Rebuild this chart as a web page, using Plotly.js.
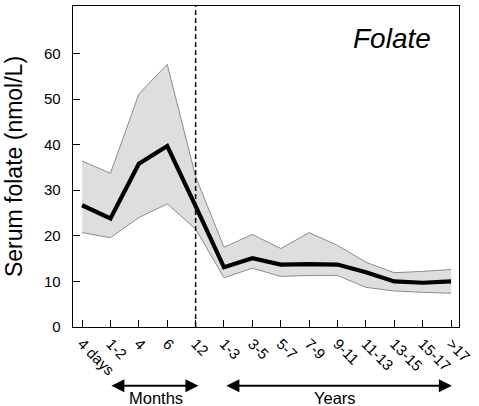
<!DOCTYPE html>
<html>
<head>
<meta charset="utf-8">
<script src="https://cdn.plot.ly/plotly-3.0.1.min.js"></script>
<style>html,body{margin:0;padding:0;background:#fff;}#chart{width:479px;height:406px;}</style>
</head>
<body>
<div id="chart"></div>
<script>
var categories = ['4 days','1-2','4','6','12','1-3','3-5','5-7','7-9','9-11','11-13','13-15','15-17','>17'];
var meanValues = [26.7, 23.8, 35.8, 39.7, 26.5, 13.1, 15.1, 13.7, 13.8, 13.7, 12.0, 10.0, 9.7, 10.0];
var upperValues = [36.4, 33.7, 51.1, 57.6, 33.0, 17.5, 20.3, 17.2, 20.7, 17.9, 14.2, 11.9, 12.2, 12.6];
var lowerValues = [20.7, 19.6, 24.0, 27.0, 21.5, 10.8, 12.9, 11.1, 11.3, 11.3, 8.7, 7.9, 7.6, 7.4];
var yTicks = [0, 10, 20, 30, 40, 50, 60];

var FONT = 'Liberation Sans, Arial, Helvetica, sans-serif';

var traces = [
  {x: categories, y: lowerValues, type: 'scatter', mode: 'lines',
   line: {color: '#8c8c8c', width: 1}, hoverinfo: 'skip', showlegend: false},
  {x: categories, y: upperValues, type: 'scatter', mode: 'lines', fill: 'tonexty',
   fillcolor: '#dedede', line: {color: '#8c8c8c', width: 1}, hoverinfo: 'skip', showlegend: false},
  {x: categories, y: meanValues, type: 'scatter', mode: 'lines',
   line: {color: '#000', width: 4.2}, showlegend: false}
];

var layout = {
  width: 479, height: 406,
  margin: {l: 73, r: 20, t: 6, b: 79, pad: 0},
  paper_bgcolor: '#fff', plot_bgcolor: '#fff',
  font: {family: FONT, color: '#000', size: 15},
  showlegend: false,
  xaxis: {
    type: 'category', categoryarray: categories, categoryorder: 'array',
    range: [-0.32, 13.28], showgrid: false, zeroline: false,
    showline: true, linecolor: '#000', linewidth: 1.3, mirror: true,
    ticks: 'inside', ticklen: 7, tickwidth: 1, tickcolor: '#000',
    tickangle: 45, tickfont: {family: FONT, size: 15, color: '#000'},
    ticklabelstandoff: 1
  },
  yaxis: {
    range: [0, 70.4], showgrid: false, zeroline: false,
    showline: true, linecolor: '#000', linewidth: 1.3, mirror: true,
    ticks: 'inside', ticklen: 7, tickwidth: 1, tickcolor: '#000',
    tickvals: yTicks, ticktext: yTicks.map(String),
    tickfont: {family: FONT, size: 15, color: '#000'},
    ticklabelstandoff: 8,
    title: {text: 'Serum folate (nmol/L)', font: {family: FONT, size: 23, color: '#000'}, standoff: 15}
  },
  shapes: [
    {type: 'line', xref: 'x', yref: 'paper', x0: 4, x1: 4, y0: 0, y1: 1,
     line: {color: '#000', width: 1.5, dash: '5px,3px'}}
  ],
  annotations: [
    {text: 'Folate', xref: 'paper', yref: 'paper', x: 0.826, y: 0.9, xanchor: 'center', yanchor: 'middle',
     showarrow: false, font: {family: FONT, size: 28, color: '#000', style: 'italic'}},
    {text: '', xref: 'x', yref: 'paper', x: 4.1, y: -0.183, axref: 'x', ax: 0.98, ayref: 'pixel', ay: 0,
     showarrow: true, arrowhead: 2, startarrowhead: 2, arrowside: 'end+start', arrowsize: 1.3, startarrowsize: 1.3,
     arrowwidth: 2, arrowcolor: '#000', standoff: 0, startstandoff: 0},
    {text: 'Months', xref: 'x', yref: 'paper', x: 2.6, y: -0.222, xanchor: 'center', yanchor: 'middle',
     showarrow: false, font: {family: FONT, size: 16.5, color: '#000'}},
    {text: '', xref: 'x', yref: 'paper', x: 13.03, y: -0.183, axref: 'x', ax: 5.03, ayref: 'pixel', ay: 0,
     showarrow: true, arrowhead: 2, startarrowhead: 2, arrowside: 'end+start', arrowsize: 1.3, startarrowsize: 1.3,
     arrowwidth: 2, arrowcolor: '#000', standoff: 0, startstandoff: 0},
    {text: 'Years', xref: 'x', yref: 'paper', x: 8.9, y: -0.222, xanchor: 'center', yanchor: 'middle',
     showarrow: false, font: {family: FONT, size: 16.5, color: '#000'}}
  ]
};

Plotly.newPlot('chart', traces, layout, {displayModeBar: false, staticPlot: true});
</script>
</body>
</html>
